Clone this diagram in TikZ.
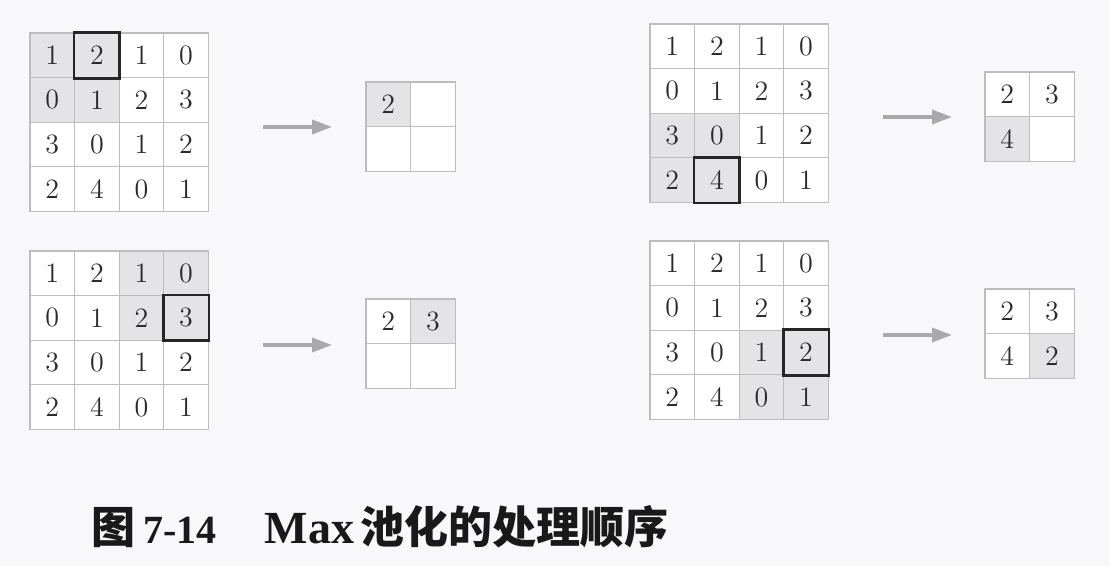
\documentclass[tikz,border=0pt]{standalone}
\usepackage{fontspec}
\newfontfamily\cjk{Noto Sans CJK SC}
\newfontfamily\capserif{Liberation Serif}
\usetikzlibrary{arrows.meta}
\definecolor{bg}{HTML}{F8F8FA}
\definecolor{gridgray}{HTML}{BDBDBD}
\definecolor{shade}{HTML}{E4E4E6}
\definecolor{arrowgray}{HTML}{A9A9A9}
\definecolor{digit}{HTML}{2A2A2A}
\def\cs{44.6}
\tikzset{
  cellbox/.style={draw=gridgray, line width=0.65pt, minimum size=22.3pt, inner sep=0pt,
    text=digit, font=\fontsize{14}{14}\selectfont},
  boldbox/.style={draw=black!85, line width=1.4pt},
  flow/.style={draw=arrowgray, line width=1.8pt, -{Triangle[length=10pt,width=7pt]}},
}
\newcommand\maxgrid[6]{% name, x, y, shade row, shade col, bold cell r-c
  \foreach \v [count=\i from 0] in {1,2,1,0,0,1,2,3,3,0,1,2,2,4,0,1}{
    \pgfmathtruncatemacro\rr{div(\i,4)}
    \pgfmathtruncatemacro\cc{mod(\i,4)}
    \pgfmathtruncatemacro\sh{(\rr>=#4)*(\rr<=#4+1)*(\cc>=#5)*(\cc<=#5+1)}
    \ifnum\sh=1 \def\fc{shade}\else\def\fc{white}\fi
    \node[cellbox, fill=\fc] (#1-\rr-\cc) at ({#2+(\cc+0.5)*\cs},{#3+(\rr+0.5)*\cs}) {\v};
  }
  \draw[boldbox] (#1-#6.north west) rectangle (#1-#6.south east);
}
\newcommand\outgrid[8]{% name, x, y, v00, v01, v10, v11, shaded index
  \foreach \r/\c/\v in {0/0/{#4},0/1/{#5},1/0/{#6},1/1/{#7}}{
    \pgfmathtruncatemacro\k{2*\r+\c}
    \ifnum\k=#8 \def\fc{shade}\else\def\fc{white}\fi
    \node[cellbox, fill=\fc] (#1-\r-\c) at ({#2+(\c+0.5)*\cs},{#3+(\r+0.5)*\cs}) {\v};
  }
}
\begin{document}
\begin{tikzpicture}[x=0.5pt,y=-0.5pt]
  \fill[bg] (0,0) rectangle (1110,566);
  \useasboundingbox (0,0) rectangle (1110,566);
  % step 1
  \maxgrid{A}{30}{33}{0}{0}{0-1}
  \outgrid{a}{366}{82}{2}{}{}{}{0}
  \coordinate (A-s) at (263,127);
  \coordinate (A-e) at (332,127);
  \draw[flow] (A-s) -- (A-e);
  % step 2
  \maxgrid{C}{30}{251}{0}{2}{1-3}
  \outgrid{c}{366}{299}{2}{3}{}{}{1}
  \coordinate (C-s) at (263,345);
  \coordinate (C-e) at (332,345);
  \draw[flow] (C-s) -- (C-e);
  % step 3
  \maxgrid{B}{650}{24}{2}{0}{3-1}
  \outgrid{b}{985}{72}{2}{3}{4}{}{2}
  \coordinate (B-s) at (883,117);
  \coordinate (B-e) at (952,117);
  \draw[flow] (B-s) -- (B-e);
  % step 4
  \maxgrid{D}{650}{241}{2}{2}{2-3}
  \outgrid{d}{985}{289}{2}{3}{4}{2}{3}
  \coordinate (D-s) at (883,335);
  \coordinate (D-e) at (952,335);
  \draw[flow] (D-s) -- (D-e);
  % caption
  \node[anchor=west, inner sep=0pt, text=black!90] (cap) at (91,527)
    {\fontsize{22}{22}\selectfont\bfseries{\cjk 图}\hspace{4pt}{\capserif\fontsize{20}{20}\selectfont 7-14}\hspace{24pt}{\capserif\bfseries\fontsize{23}{23}\selectfont Max}\hspace{3pt}{\cjk 池化的处理顺序}};
\end{tikzpicture}
\end{document}
